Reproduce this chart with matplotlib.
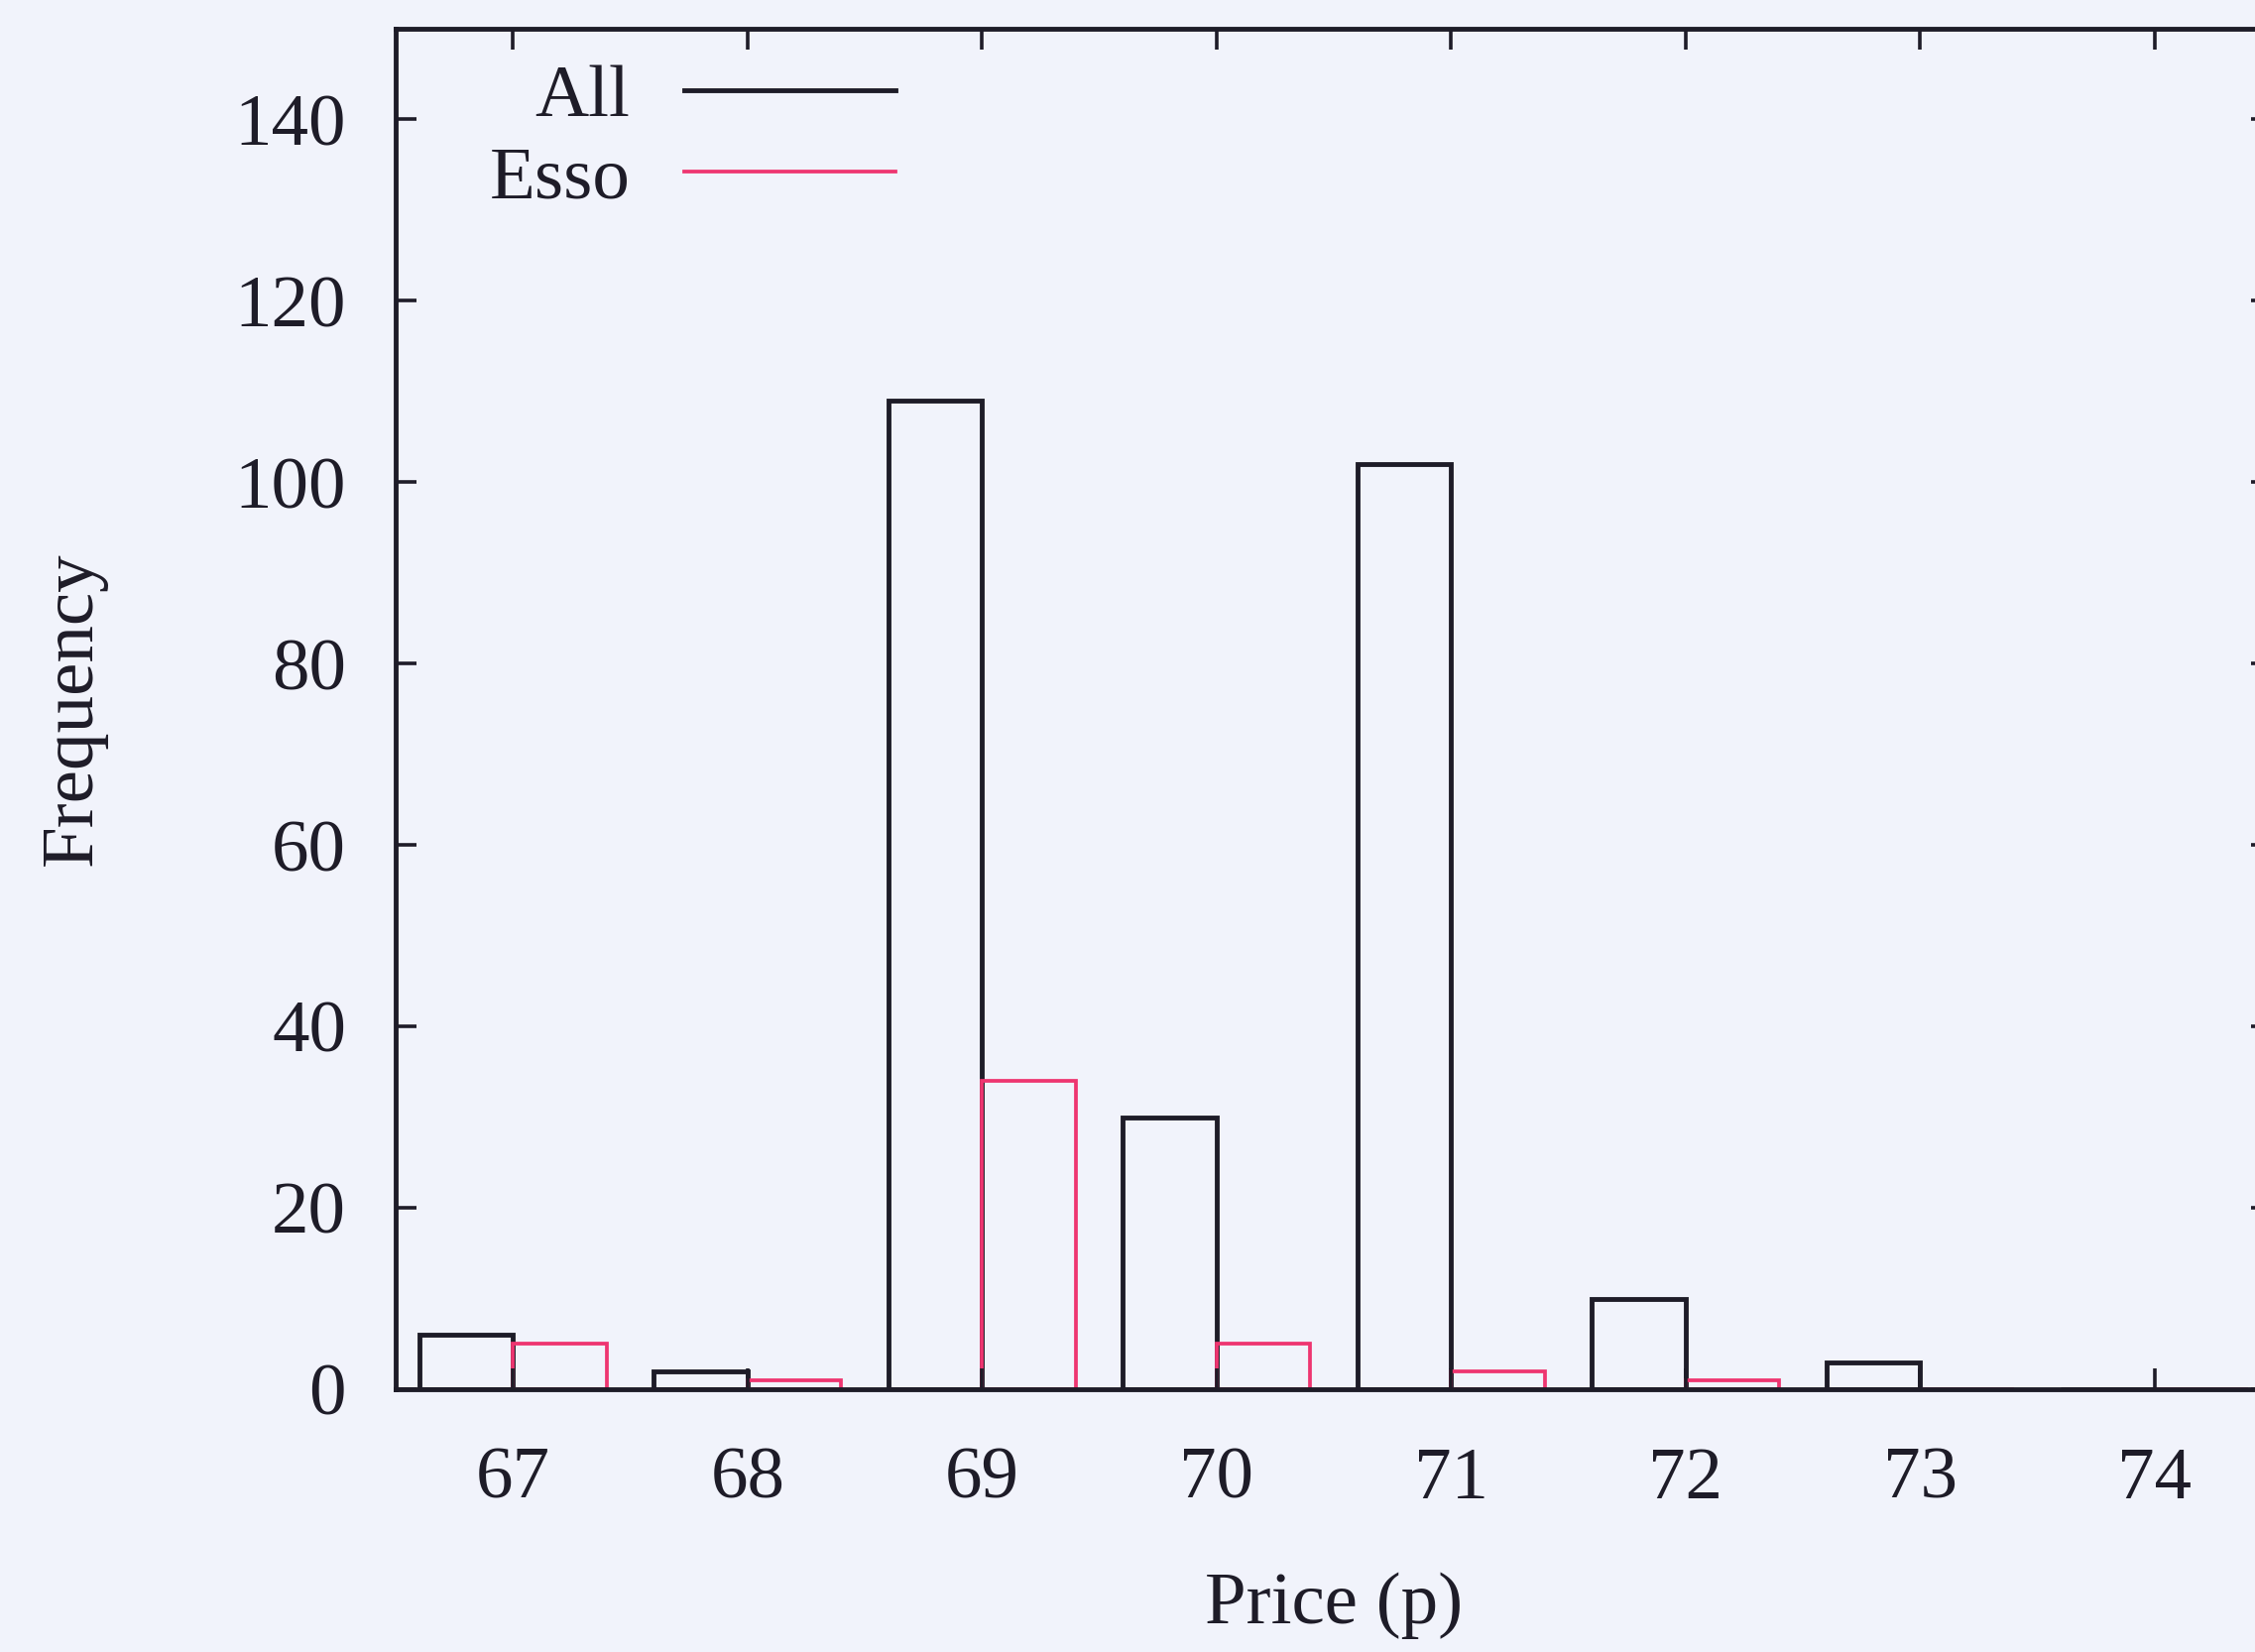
import numpy as np
import matplotlib
matplotlib.use('Agg')
import matplotlib.pyplot as plt

# price histogram, all stations vs Esso
prices = [67, 68, 69, 70, 71, 72, 73, 74]
freq_all = [6, 2, 109, 30, 102, 10, 3, 0]
freq_esso = [5, 1, 34, 5, 2, 1, 0, 0]

plt.rcParams['font.family'] = ['Liberation Serif', 'DejaVu Serif']
bg = '#f1f3fb'
ink = '#1e1c28'
pink = '#ee3570'
fs = 54

fig = plt.figure(figsize=(22.74, 16.66), dpi=100, facecolor=bg)
ax = fig.add_axes([0.1755, 0.159, 0.832, 0.8236])
ax.set_facecolor(bg)

x = np.array(prices)
w = 0.4
ax.bar(x - w / 2, freq_all, width=w, fill=False, edgecolor=ink, linewidth=3.5)
ax.bar(x + w / 2, freq_esso, width=w, fill=False, edgecolor=pink, linewidth=2.7)

ax.set_xlim(66.5, 74.5)
ax.set_ylim(0, 150)
ax.set_xticks(prices)
ax.set_yticks(range(0, 141, 20))
ax.tick_params(direction='in', length=15, width=2.6, top=True, right=True,
               labelsize=fs, colors=ink)
ax.tick_params(axis='x', pad=42)
ax.tick_params(axis='y', pad=36)
for s in ax.spines.values():
    s.set_linewidth(3.5)
    s.set_color(ink)

ax.set_xlabel('Price (p)', fontsize=fs, color=ink)
ax.set_ylabel('Frequency', fontsize=fs, color=ink)
ax.xaxis.set_label_coords(0.5, -0.134)
ax.yaxis.set_label_coords(-0.154, 0.5)

# key in the top-left corner: label then line sample
h1, = ax.plot([], [], color=ink, linewidth=3.5)
h2, = ax.plot([], [], color=pink, linewidth=2.7)
leg = ax.legend([h1, h2], ['All', 'Esso'], loc='upper left',
                bbox_to_anchor=(0.05, 0.974), markerfirst=False, frameon=False,
                fontsize=fs, handlelength=2.84, handletextpad=0.73,
                labelspacing=0.18, borderpad=0, borderaxespad=0)
for t in leg.get_texts():
    t.set_color(ink)

fig.savefig('out.png', dpi=100, facecolor=bg)
